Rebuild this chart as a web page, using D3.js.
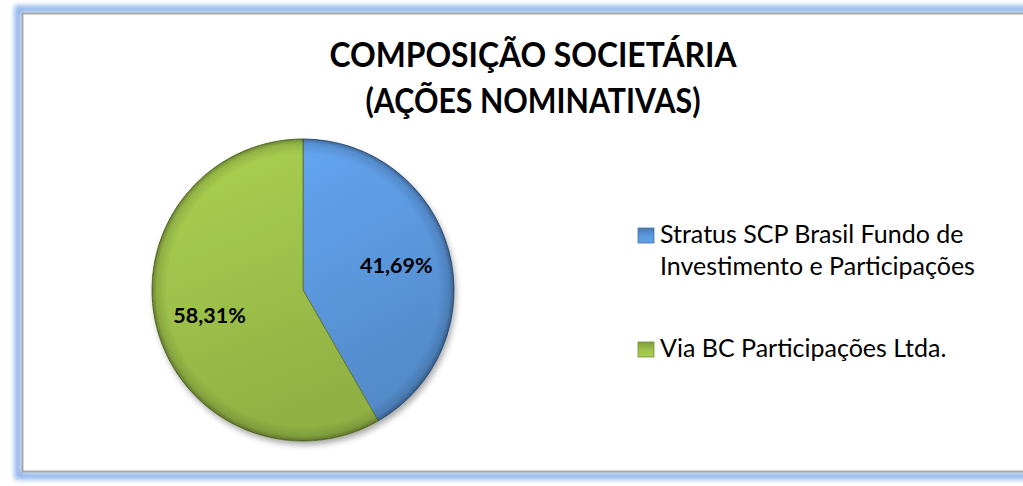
<!DOCTYPE html>
<html>
<head>
<meta charset="utf-8">
<script src="https://cdn.jsdelivr.net/npm/d3@7"></script>
<style>
  body { margin: 0; background: #fff; }
  svg { display: block; }
</style>
</head>
<body>
<div id="graph"></div>
<script>
var titleLines = ["COMPOSIÇÃO SOCIETÁRIA", "(AÇÕES NOMINATIVAS)"];
var categories = ["Stratus SCP Brasil Fundo de Investimento e Participações", "Via BC Participações Ltda."];
var legendLines = [["Stratus SCP Brasil Fundo de", "Investimento e Participações"], ["Via BC Participações Ltda."]];
var values = [41.69, 58.31];
var valueLabels = ["41,69%", "58,31%"];
var colors = ["#5b97dc", "#9dc14a"];

var width = 1023, height = 486;
var font = "Lato, 'Open Sans', sans-serif";

var svg = d3.select("#graph").append("svg")
    .attr("width", width)
    .attr("height", height);

var defs = svg.append("defs");

// blue glow round the chart frame
var glow = defs.append("filter").attr("id", "glow")
    .attr("x", "-5%").attr("y", "-5%").attr("width", "110%").attr("height", "110%");
glow.append("feGaussianBlur").attr("stdDeviation", 2.5);

var shadow = defs.append("filter").attr("id", "shadow")
    .attr("x", "-20%").attr("y", "-20%").attr("width", "140%").attr("height", "140%");
shadow.append("feGaussianBlur").attr("stdDeviation", 3);

// frame
svg.append("rect")
    .attr("x", 18).attr("y", 9)
    .attr("width", 1040).attr("height", 467)
    .attr("fill", "none")
    .attr("stroke", "#8fb4ea")
    .attr("stroke-width", 7)
    .attr("filter", "url(#glow)");
svg.append("rect")
    .attr("x", 22.5).attr("y", 13.5)
    .attr("width", 1040).attr("height", 458)
    .attr("fill", "#fff")
    .attr("stroke", "#a9a9a9")
    .attr("stroke-width", 2);

// squeeze a text to a given width, Calibri is narrower than what we have
function squeeze(sel, w) {
    sel.each(function () {
        var len = this.getComputedTextLength();
        if (len > w) {
            d3.select(this).attr("textLength", w).attr("lengthAdjust", "spacingAndGlyphs");
        }
    });
}

// title
var title = svg.append("text")
    .attr("text-anchor", "middle")
    .attr("font-family", font)
    .attr("font-weight", "bold")
    .attr("font-size", 33.5)
    .attr("fill", "#000");
var titleSpans = title.selectAll("tspan")
    .data(titleLines)
    .enter().append("tspan")
    .attr("x", 533)
    .attr("y", function (d, i) { return 67 + i * 46; })
    .text(function (d) { return d; });
var tw = [407, 335];
titleSpans.each(function (d, i) { squeeze(d3.select(this), tw[i]); });

// pie
var cx = 303, cy = 290, r = 151;

var pie = d3.pie().sort(null).value(function (d) { return d; });
var arcs = pie(values);
var arc = d3.arc().innerRadius(0).outerRadius(r);
var labelArc = d3.arc().innerRadius(r * 0.64).outerRadius(r * 0.64);

colors.forEach(function (c, i) {
    var g = defs.append("linearGradient").attr("id", "grad" + i)
        .attr("x1", 0).attr("y1", 0).attr("x2", 0.3).attr("y2", 1);
    g.append("stop").attr("offset", "0%").attr("stop-color", d3.color(c).brighter(0.25));
    g.append("stop").attr("offset", "100%").attr("stop-color", d3.color(c).darker(0.25));
});

var bevel = defs.append("radialGradient").attr("id", "bevel");
bevel.append("stop").attr("offset", "90%").attr("stop-color", "#000").attr("stop-opacity", 0);
bevel.append("stop").attr("offset", "97%").attr("stop-color", "#000").attr("stop-opacity", 0.12);
bevel.append("stop").attr("offset", "100%").attr("stop-color", "#000").attr("stop-opacity", 0.35);

var pieG = svg.append("g").attr("transform", "translate(" + cx + "," + cy + ")");

pieG.append("circle")
    .attr("cx", 2).attr("cy", 4).attr("r", r)
    .attr("fill", "#000").attr("opacity", 0.35)
    .attr("filter", "url(#shadow)");

pieG.selectAll(".slice")
    .data(arcs)
    .enter().append("path")
    .attr("class", "slice")
    .attr("d", arc)
    .attr("fill", function (d, i) { return "url(#grad" + i + ")"; })
    .attr("stroke", function (d, i) { return d3.color(colors[i]).darker(1.2); })
    .attr("stroke-width", 1);

pieG.append("circle")
    .attr("r", r)
    .attr("fill", "url(#bevel)");

pieG.selectAll(".label")
    .data(arcs)
    .enter().append("text")
    .attr("class", "label")
    .attr("transform", function (d) {
        var c = labelArc.centroid(d);
        return "translate(" + c[0] + "," + (c[1] + 8) + ")";
    })
    .attr("text-anchor", "middle")
    .attr("font-family", font)
    .attr("font-weight", "bold")
    .attr("font-size", 21.5)
    .attr("fill", "#000")
    .text(function (d, i) { return valueLabels[i]; })
    .call(squeeze, 78);

// legend
var legendY = [243, 357];
var legend = svg.selectAll(".legend")
    .data(categories)
    .enter().append("g")
    .attr("class", "legend")
    .attr("transform", function (d, i) { return "translate(638," + legendY[i] + ")"; });

legend.each(function (d, i) {
    var g = defs.append("linearGradient").attr("id", "lg" + i)
        .attr("x1", 0).attr("y1", 0).attr("x2", 0).attr("y2", 1);
    g.append("stop").attr("offset", "0%").attr("stop-color", d3.color(colors[i]).darker(0.6));
    g.append("stop").attr("offset", "50%").attr("stop-color", colors[i]);
    g.append("stop").attr("offset", "100%").attr("stop-color", d3.color(colors[i]).brighter(0.2));
});

legend.append("rect")
    .attr("x", 0).attr("y", -15)
    .attr("width", 16).attr("height", 15)
    .attr("fill", function (d, i) { return "url(#lg" + i + ")"; })
    .attr("stroke", function (d, i) { return d3.color(colors[i]).darker(0.8); })
    .attr("stroke-width", 0.8);

var legendText = legend.append("text")
    .attr("font-family", font)
    .attr("font-size", 25)
    .attr("fill", "#000");
var legendSpans = legendText.selectAll("tspan")
    .data(function (d, i) { return legendLines[i]; })
    .enter().append("tspan")
    .attr("x", 22)
    .attr("y", function (d, j) { return j * 32; })
    .text(function (d) { return d; });

var lw = { "Stratus SCP Brasil Fundo de": 310, "Investimento e Participações": 320, "Via BC Participações Ltda.": 288 };
legendSpans.each(function (d) { squeeze(d3.select(this), lw[d]); });
</script>
</body>
</html>
